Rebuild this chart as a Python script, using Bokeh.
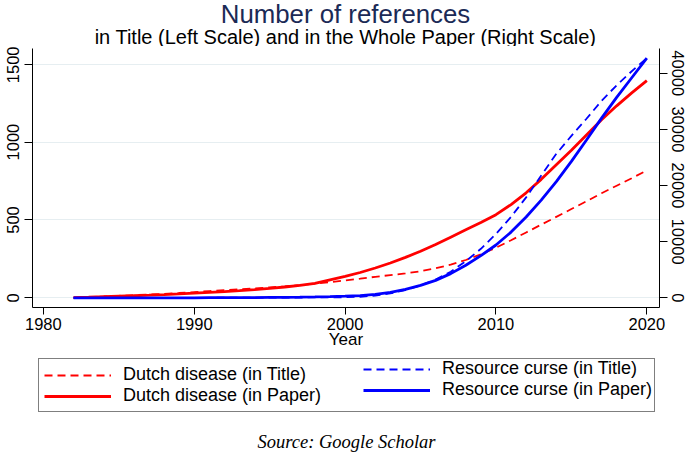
from bokeh.plotting import figure
from bokeh.layouts import column
from bokeh.models import (Range1d, LinearAxis, FixedTicker, NumeralTickFormatter,
                          Legend, LegendItem, Label)
from bokeh.embed import file_html
from bokeh.resources import INLINE

# ---------------- data ----------------
years = [1982, 1983, 1984, 1985, 1986, 1987, 1988, 1989, 1990, 1991,
         1992, 1993, 1994, 1995, 1996, 1997, 1998, 1999, 2000, 2001,
         2002, 2003, 2004, 2005, 2006, 2007, 2008, 2009, 2010, 2011,
         2012, 2013, 2014, 2015, 2016, 2017, 2018, 2019, 2020]

# Left scale: references in title
dutch_title = [2, 5, 9, 13, 17, 21, 26, 31, 37, 43,
               49, 55, 61, 67, 74, 82, 91, 101, 112, 123,
               135, 146, 157, 171, 190, 213, 243, 280, 322, 370,
               420, 470, 520, 570, 620, 672, 720, 768, 818]
resource_title = [0, 0, 0, 0, 0, 0, 0, 0, 0, 0,
                  1, 1, 1, 1, 2, 2, 3, 3, 4, 7,
                  14, 28, 50, 80, 118, 168, 235, 315, 410, 520,
                  645, 785, 925, 1040, 1150, 1265, 1365, 1455, 1540]

# Right scale: references in the whole paper
dutch_paper = [30, 100, 180, 270, 360, 460, 570, 690, 820, 960,
               1110, 1280, 1470, 1680, 1920, 2200, 2550, 3200, 3800, 4500,
               5300, 6200, 7200, 8300, 9500, 10800, 12100, 13400, 14800, 16600,
               18700, 21100, 23700, 26300, 29000, 31700, 34200, 36500, 38700]
resource_paper = [0, 0, 0, 0, 0, 0, 0, 0, 0, 10,
                  20, 30, 40, 60, 80, 110, 150, 200, 280, 400,
                  620, 980, 1500, 2200, 3100, 4300, 5800, 7500, 9400, 11700,
                  14400, 17400, 20700, 24300, 28100, 32000, 35700, 39200, 42700]

x_ticks = [1980, 1990, 2000, 2010, 2020]
left_ticks = [0, 500, 1000, 1500]
right_ticks = [0, 10000, 20000, 30000, 40000]

title_text = "Number of references"
subtitle_text = "in Title (Left Scale) and in the Whole Paper (Right Scale)"
source_text = "Source: Google Scholar"
x_label = "Year"
labels = ["Dutch disease (in Title)", "Dutch disease (in Paper)",
          "Resource curse (in Title)", "Resource curse (in Paper)"]

SANS = "Liberation Sans"
RED = "#ff0000"
BLUE = "#0000ff"
W = 690
BL, BR = 32, 31   # shared left/right borders (frames are aligned in a column)
H_TOP, H_MAIN, H_BOT = 46, 306, 102


def blank_fig(h):
    f = figure(width=W, height=h, output_backend="svg", toolbar_location=None,
               x_range=Range1d(BL, W - BR), y_range=Range1d(h, 0),
               x_axis_location=None, y_axis_location=None,
               min_border_left=BL, min_border_right=BR, min_border_top=0,
               min_border_bottom=0, title=None)
    f.grid.visible = False
    f.outline_line_color = None
    f.background_fill_color = "white"
    f.border_fill_color = "white"
    return f


# ---------------- top: titles ----------------
top = blank_fig(H_TOP)
top.add_layout(Label(x=345, y=13, text=title_text, text_align="center",
                     text_baseline="middle", text_font=SANS,
                     text_font_size="25.8px", text_color="#1b2a56"))
top.add_layout(Label(x=345, y=36, text=subtitle_text, text_align="center",
                     text_baseline="middle", text_font=SANS,
                     text_font_size="20px", text_color="black"))

# ---------------- main plot ----------------
p = figure(width=W, height=H_MAIN, output_backend="svg", toolbar_location=None,
           x_range=Range1d(1979.28, 2020.84), y_range=Range1d(-62, 1601),
           min_border_left=BL, min_border_right=BR, min_border_top=2,
           min_border_bottom=45, title=None)
p.outline_line_color = None
p.background_fill_color = "white"
p.border_fill_color = "white"
p.xgrid.visible = False
p.ygrid.ticker = FixedTicker(ticks=left_ticks)
p.ygrid.grid_line_color = "#e6eef1"
p.ygrid.grid_line_width = 1

p.extra_y_ranges = {"right": Range1d(-1732, 44411)}

xa = p.xaxis[0]
xa.ticker = FixedTicker(ticks=x_ticks)
xa.axis_label = x_label
xa.axis_label_text_font = SANS
xa.axis_label_text_font_size = "17px"
xa.axis_label_text_font_style = "normal"
xa.axis_label_text_color = "black"
xa.axis_label_standoff = -3
xa.major_label_text_font = SANS
xa.major_label_text_font_size = "16.5px"
xa.major_label_standoff = 3
xa.major_tick_out = 7
xa.major_tick_in = 0
xa.minor_tick_out = 0
xa.minor_tick_in = 0
xa.axis_line_color = "black"
xa.major_tick_line_color = "black"
xa.major_label_text_color = "black"

ya = p.yaxis[0]
ya.ticker = FixedTicker(ticks=left_ticks)
ya.formatter = NumeralTickFormatter(format="0")
ya.major_label_orientation = "vertical"
ya.major_label_text_font = SANS
ya.major_label_text_font_size = "16.5px"
ya.major_label_standoff = 5
ya.major_tick_out = 8
ya.major_tick_in = 0
ya.minor_tick_out = 0
ya.minor_tick_in = 0
ya.axis_line_color = "black"
ya.major_tick_line_color = "black"
ya.major_label_text_color = "black"

ra = LinearAxis(y_range_name="right", ticker=FixedTicker(ticks=right_ticks),
                formatter=NumeralTickFormatter(format="0"))
ra.major_label_orientation = "vertical"
ra.major_label_text_font = SANS
ra.major_label_text_font_size = "16.5px"
ra.major_label_standoff = 4
ra.major_tick_out = 8
ra.major_tick_in = 0
ra.minor_tick_out = 0
ra.minor_tick_in = 0
ra.axis_line_color = "black"
ra.major_tick_line_color = "black"
ra.major_label_text_color = "black"
p.add_layout(ra, "right")

p.line(years, dutch_title, line_color=RED, line_width=1.8, line_dash="8 5")
p.line(years, dutch_paper, line_color=RED, line_width=2.8, y_range_name="right")
p.line(years, resource_title, line_color=BLUE, line_width=1.8, line_dash="8 5")
p.line(years, resource_paper, line_color=BLUE, line_width=2.8, y_range_name="right")

# ---------------- bottom: legend and source ----------------
bot = blank_fig(H_BOT)
off_x = [-200, -100]
off_y = [-50, -50]
k_dt = bot.line(off_x, off_y, line_color=RED, line_width=1.8, line_dash="8 5")
k_dp = bot.line(off_x, off_y, line_color=RED, line_width=2.8)
k_rt = bot.line(off_x, off_y, line_color=BLUE, line_width=1.8, line_dash="8 5")
k_rp = bot.line(off_x, off_y, line_color=BLUE, line_width=2.8)


def make_legend(items, loc, bordered, lw, pad):
    lg = Legend(items=items, location=loc, orientation="vertical",
                padding=pad, spacing=0, margin=6,
                glyph_width=67, glyph_height=20, label_height=20, label_width=lw,
                label_standoff=12,
                label_text_font=SANS, label_text_font_size="18px",
                label_text_color="black")
    if bordered:
        lg.border_line_color = "black"
        lg.border_line_width = 1
        lg.background_fill_color = "white"
        lg.background_fill_alpha = 1
    else:
        lg.border_line_color = None
        lg.background_fill_alpha = 0
    return lg


# the bordered legend spans the whole box; the second column sits on top of it
leg_a = make_legend([LegendItem(label=labels[0], renderers=[k_dt]),
                     LegendItem(label=labels[1], renderers=[k_dp])],
                    "top_left", True, 526, 5)
leg_b = make_legend([LegendItem(label=labels[2], renderers=[k_rt]),
                     LegendItem(label=labels[3], renderers=[k_rp])],
                    "top_right", False, 211, 11)
bot.add_layout(leg_a)
bot.add_layout(leg_b)
bot.add_layout(Label(x=346, y=89, text=source_text, text_align="center",
                     text_baseline="middle", text_font="Liberation Serif",
                     text_font_style="italic", text_font_size="18.5px",
                     text_color="black"))

layout = column(top, p, bot, spacing=0)
open("out.html", "w").write(file_html(layout, INLINE))
